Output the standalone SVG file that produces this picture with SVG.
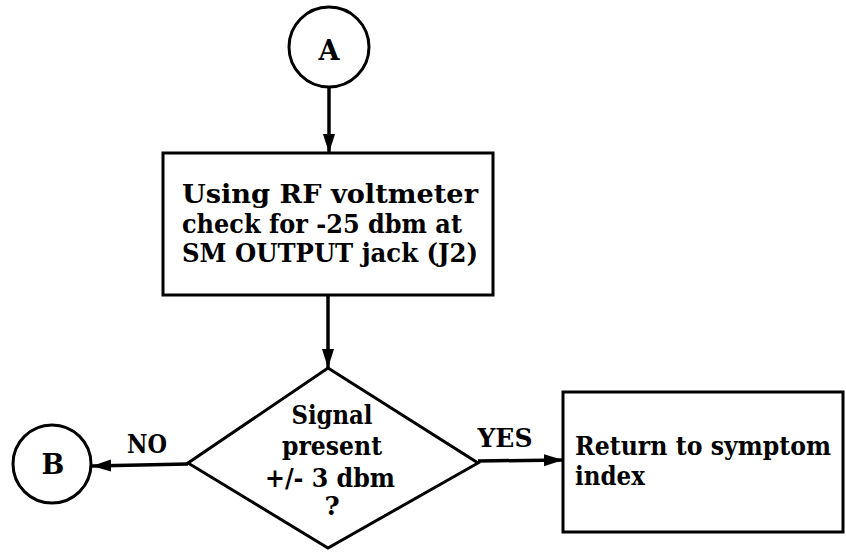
<svg xmlns="http://www.w3.org/2000/svg" width="846" height="554" viewBox="0 0 846 554">
<defs>
<style>
.shape{fill:#fff;stroke:#000;stroke-width:3}
.t{font-family:"DejaVu Serif","Liberation Serif",serif;font-size:26px;font-weight:bold;fill:#000}
.lbl{font-family:"DejaVu Serif","Liberation Serif",serif;font-size:27px;font-weight:bold;fill:#000}
.edge{fill:none;stroke:#000;stroke-width:3.5}
</style>
<marker id="arr" markerUnits="userSpaceOnUse" markerWidth="20" markerHeight="14" refX="19" refY="7" orient="auto">
<path d="M0,1 L19,7 L0,13 Z" fill="#000"/>
</marker>
</defs>
<rect width="846" height="554" fill="#fff"/>
<g id="connectors">
<line class="edge" x1="329" y1="87" x2="329" y2="153" marker-end="url(#arr)"/>
<line class="edge" x1="328" y1="295" x2="328" y2="368" marker-end="url(#arr)"/>
<line class="edge" x1="188" y1="464" x2="92" y2="466" marker-end="url(#arr)"/>
<line class="edge" x1="478" y1="461" x2="563" y2="460" marker-end="url(#arr)"/>
<text class="t" x="147" y="453" text-anchor="middle" textLength="40" lengthAdjust="spacingAndGlyphs">NO</text>
<text class="t" x="505" y="447" text-anchor="middle" textLength="55" lengthAdjust="spacingAndGlyphs">YES</text>
</g>
<g id="nodeA">
<circle class="shape" cx="329" cy="47" r="40"/>
<text class="lbl" x="329" y="60" text-anchor="middle">A</text>
</g>
<g id="check">
<rect class="shape" x="163" y="153" width="330" height="142"/>
<text class="t" x="182" y="203" textLength="296" lengthAdjust="spacingAndGlyphs">Using RF voltmeter</text>
<text class="t" x="182" y="233" textLength="280" lengthAdjust="spacingAndGlyphs">check for -25 dbm at</text>
<text class="t" x="182" y="262" textLength="296" lengthAdjust="spacingAndGlyphs">SM OUTPUT jack (J2)</text>
</g>
<g id="decision">
<polygon class="shape" points="328,368 478,463 328,548 188,463"/>
<text class="t" x="332" y="424" text-anchor="middle" textLength="81" lengthAdjust="spacingAndGlyphs">Signal</text>
<text class="t" x="332" y="455" text-anchor="middle" textLength="100" lengthAdjust="spacingAndGlyphs">present</text>
<text class="t" x="330" y="487" text-anchor="middle" textLength="130" lengthAdjust="spacingAndGlyphs">+/- 3 dbm</text>
<text class="t" x="332" y="515" text-anchor="middle">?</text>
</g>
<g id="nodeB">
<circle class="shape" cx="52" cy="464" r="39"/>
<text class="lbl" x="53" y="474" text-anchor="middle">B</text>
</g>
<g id="return">
<rect class="shape" x="563" y="392" width="280" height="140"/>
<text class="t" x="575" y="455" textLength="256" lengthAdjust="spacingAndGlyphs">Return to symptom</text>
<text class="t" x="575" y="485" textLength="70" lengthAdjust="spacingAndGlyphs">index</text>
</g>
</svg>
